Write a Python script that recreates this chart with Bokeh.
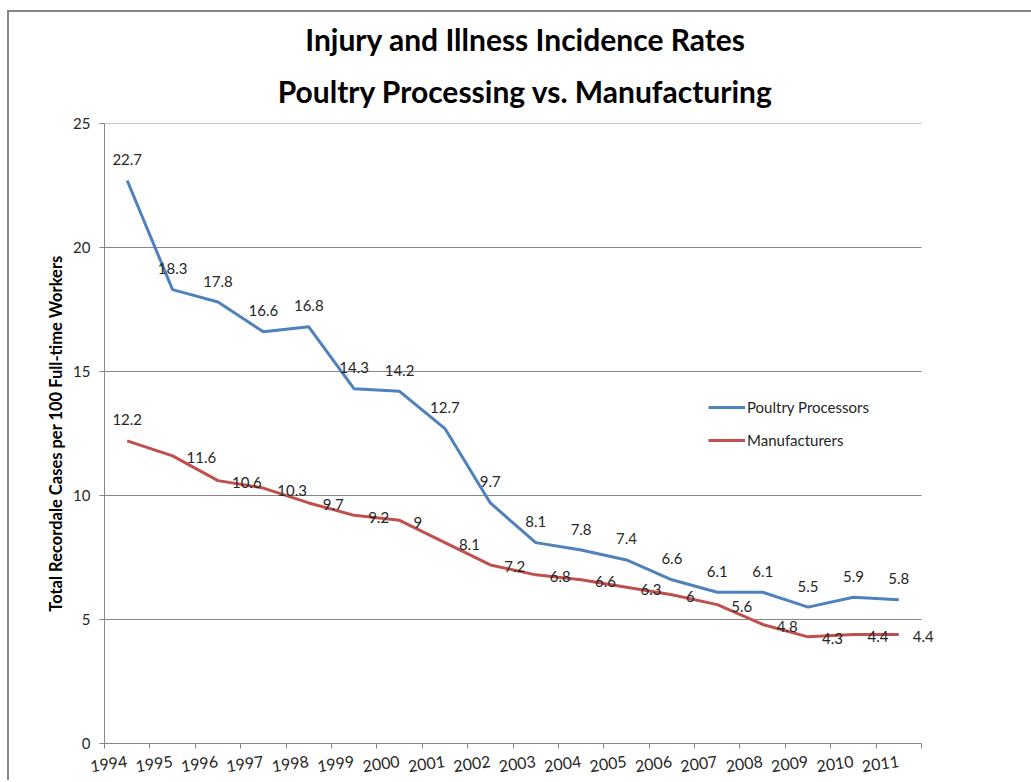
from bokeh.plotting import figure
from bokeh.models import (Range1d, FixedTicker, Title, ColumnDataSource, Legend,
                          LegendItem, LabelSet)
from bokeh.core.properties import value
from bokeh.embed import file_html
from bokeh.resources import INLINE

title_lines = ["Injury and Illness Incidence Rates", "Poultry Processing vs. Manufacturing"]
years = ["1994", "1995", "1996", "1997", "1998", "1999", "2000", "2001", "2002",
         "2003", "2004", "2005", "2006", "2007", "2008", "2009", "2010", "2011"]
poultry = [22.7, 18.3, 17.8, 16.6, 16.8, 14.3, 14.2, 12.7, 9.7,
           8.1, 7.8, 7.4, 6.6, 6.1, 6.1, 5.5, 5.9, 5.8]
manufacturers = [12.2, 11.6, 10.6, 10.3, 9.7, 9.2, 9.0, 8.1, 7.2,
                 6.8, 6.6, 6.3, 6.0, 5.6, 4.8, 4.3, 4.4, 4.4]
y_ticks = [0, 5, 10, 15, 20, 25]

FONT = "Lato"
BLUE = "#4F81BD"
RED = "#C0504D"
GREY = "#868686"
TXT = "#262626"

n = len(years)
xs = [i + 0.5 for i in range(n)]
x_extra = 0.55  # room right of the last category for the overhanging data label

def fmt(v):
    return ("%g" % v)

W, H = 1031, 780
FRAME_L, FRAME_T, FRAME_W_CAT, FRAME_B = 104, 123, 817, 34
frame_w = FRAME_W_CAT * (n + x_extra) / n
p = figure(width=W, height=H, output_backend="svg", toolbar_location=None,
           x_range=Range1d(0, n + x_extra), y_range=Range1d(0, 25),
           min_border_left=FRAME_L, min_border_right=int(round(W - FRAME_L - frame_w)),
           min_border_top=FRAME_T, min_border_bottom=FRAME_B)
# chart-area border (left and top only), drawn behind the transparent border fill
p.styles = {"box-shadow": "inset 7px 10px 0 0 white, inset 9px 12px 0 0 #868686"}
p.outline_line_color = None
p.background_fill_color = "white"
p.border_fill_alpha = 0

p.add_layout(Title(text=title_lines[1], align="center",
                   text_font=FONT, text_font_size="30px", text_font_style="bold",
                   text_color="black", standoff=29), "above")
p.add_layout(Title(text=title_lines[0], align="center",
                   text_font=FONT, text_font_size="30px", text_font_style="bold",
                   text_color="black", standoff=0), "above")

# x axis
xa = p.xaxis[0]
xa.bounds = (0, n)
xa.ticker = FixedTicker(ticks=xs, minor_ticks=list(range(n + 1)))
xa.major_label_overrides = {x: y for x, y in zip(xs, years)}
xa.major_label_orientation = 0.14
xa.major_tick_out = 0
xa.major_tick_in = 0
xa.minor_tick_out = 5
xa.minor_tick_in = 0
xa.minor_tick_line_color = GREY
xa.axis_line_color = GREY
xa.major_label_text_font = FONT
xa.major_label_text_font_size = "16px"
xa.major_label_text_color = TXT
xa.major_label_standoff = 13

# y axis
ya = p.yaxis[0]
ya.ticker = FixedTicker(ticks=y_ticks)
ya.minor_tick_line_color = None
ya.major_tick_out = 5
ya.major_tick_in = 0
ya.major_tick_line_color = GREY
ya.axis_line_color = GREY
ya.major_label_text_font = FONT
ya.major_label_text_font_size = "15px"
ya.major_label_text_color = TXT
ya.major_label_standoff = 9
ya.axis_label = "Total Recordale Cases per 100 Full-time Workers"
ya.axis_label_text_font = FONT
ya.axis_label_text_font_size = "16.5px"
ya.axis_label_text_font_style = "bold"
ya.axis_label_text_color = "black"
ya.axis_label_standoff = 4

# horizontal gridlines, spanning only the category area
p.xgrid.grid_line_color = None
p.ygrid.grid_line_color = None
gy = [t for t in y_ticks if t > 0]
p.segment(x0=[0] * len(gy), x1=[n] * len(gy), y0=gy, y1=gy,
          line_color=GREY, line_width=1)

src_b = ColumnDataSource(dict(x=xs, y=poultry, t=[fmt(v) for v in poultry]))
src_r0 = ColumnDataSource(dict(x=xs[:1], y=manufacturers[:1],
                               t=[fmt(v) for v in manufacturers[:1]]))
src_r1 = ColumnDataSource(dict(x=xs[1:], y=manufacturers[1:],
                               t=[fmt(v) for v in manufacturers[1:]]))
src_r = ColumnDataSource(dict(x=xs, y=manufacturers))

lb = p.line("x", "y", source=src_b, line_color=BLUE, line_width=3)
lr = p.line("x", "y", source=src_r, line_color=RED, line_width=3)

def labels(src, align, xo, yo):
    return LabelSet(x="x", y="y", text="t", source=src, text_font=value(FONT),
                    text_font_size=value("15px"), text_color=value(TXT),
                    text_align=value(align), text_baseline=value("middle"),
                    x_offset=xo, y_offset=yo)

p.add_layout(labels(src_b, "center", 0, 21))
p.add_layout(labels(src_r0, "center", 0, 21))
p.add_layout(labels(src_r1, "left", 14, -2))

legend = Legend(items=[LegendItem(label="Poultry Processors", renderers=[lb]),
                       LegendItem(label="Manufacturers", renderers=[lr])],
                location=(604, 293), orientation="vertical")
legend.glyph_width = 37
legend.glyph_height = 20
legend.label_height = 20
legend.spacing = 13
legend.padding = 0
legend.margin = 0
legend.label_standoff = 2
legend.border_line_color = None
legend.background_fill_alpha = 0
legend.label_text_font = FONT
legend.label_text_font_size = "15px"
legend.label_text_color = TXT
p.add_layout(legend, "center")

open("out.html", "w").write(file_html(p, INLINE))
